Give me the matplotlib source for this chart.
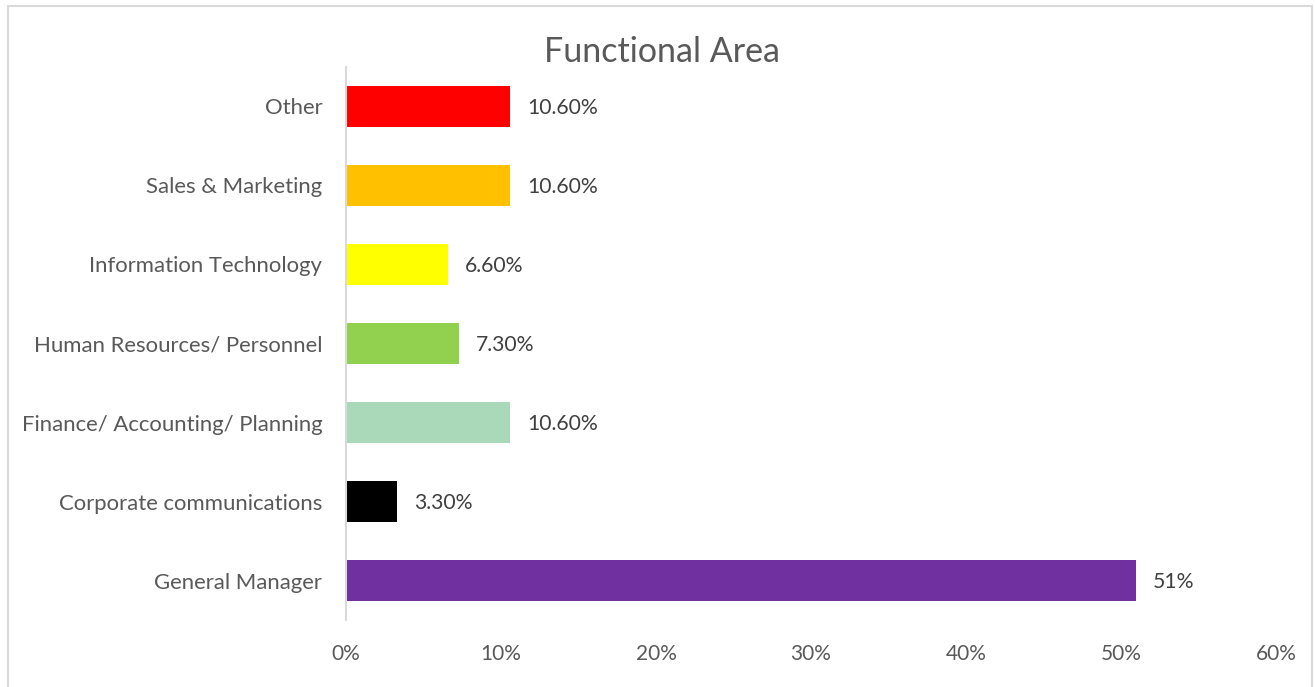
import matplotlib.pyplot as plt
from matplotlib.patches import Rectangle
from matplotlib.ticker import FuncFormatter

plt.rcParams['font.family'] = ['Lato', 'DejaVu Sans']

categories = ['General Manager', 'Corporate communications', 'Finance/ Accounting/ Planning',
              'Human Resources/ Personnel', 'Information Technology', 'Sales & Marketing', 'Other']
shares = [51, 3.3, 10.6, 7.3, 6.6, 10.6, 10.6]
value_labels = ['51%', '3.30%', '10.60%', '7.30%', '6.60%', '10.60%', '10.60%']
bar_colors = ['#7030A0', '#000000', '#A9D9B8', '#92D050', '#FFFF00', '#FFC000', '#FF0000']
x_ticks = [0, 10, 20, 30, 40, 50, 60]

text_color = '#595959'

fig = plt.figure(figsize=(13.15, 6.87), dpi=100)
ax = fig.add_axes([0.2631, 0.0975, 0.7072, 0.805])

ax.barh(range(len(categories)), shares, height=0.53, color=bar_colors)
for i, (v, lab) in enumerate(zip(shares, value_labels)):
    ax.annotate(lab, (v, i), xytext=(12, -1.2), textcoords='offset points',
                va='center', ha='left', fontsize=15.2, color='#404040')

ax.set_xlim(0, 60)
ax.set_ylim(-0.5, len(categories) - 0.5)
ax.set_xticks(x_ticks)
ax.xaxis.set_major_formatter(FuncFormatter(lambda v, p: f'{v:.0f}%'))
ax.set_yticks(range(len(categories)))
ax.set_yticklabels(categories, fontsize=15.9)
ax.tick_params(axis='both', length=0, labelcolor=text_color)
ax.tick_params(axis='x', labelsize=15, pad=17)
ax.tick_params(axis='y', pad=17)

for side in ['top', 'right', 'bottom']:
    ax.spines[side].set_visible(False)
ax.spines['left'].set_color('#D9D9D9')
ax.spines['left'].set_linewidth(1.5)

fig.text(0.5035, 0.925, 'Functional Area', ha='center', va='center',
         fontsize=24.5, color=text_color)

# light chart-area frame
fig.patches.append(Rectangle((8 / 1315, -0.01), 1304 / 1315, 1 - 6 / 687 + 0.01,
                             transform=fig.transFigure, fill=False,
                             edgecolor='#D9D9D9', linewidth=1.5))

fig.savefig('out.png', dpi=100)
